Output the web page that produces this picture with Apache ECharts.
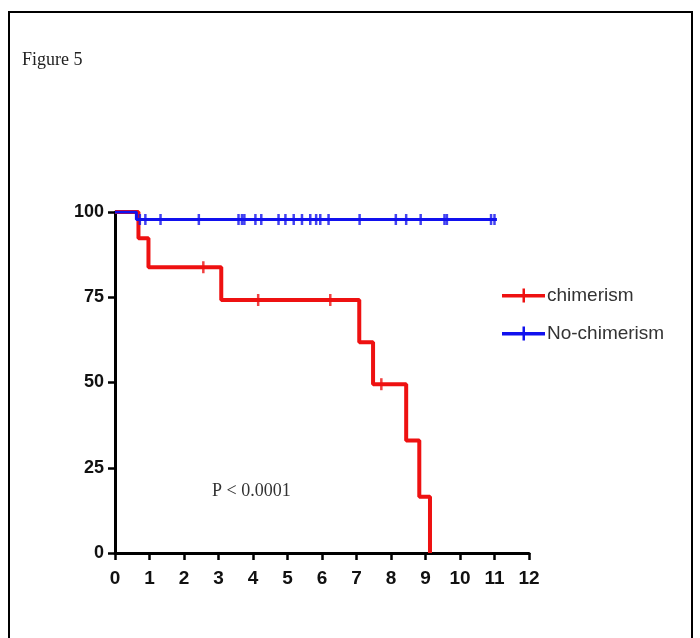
<!DOCTYPE html>
<html>
<head>
<meta charset="utf-8">
<script src="https://cdn.jsdelivr.net/npm/echarts@6/dist/echarts.min.js"></script>
<style>
  html, body { margin: 0; padding: 0; background: #fff; }
  #main { width: 700px; height: 638px; }
</style>
</head>
<body>
<div id="main"></div>
<script>
// Kaplan-Meier steps (time in years, survival %)
var chimerismSteps = [[0, 100], [0.68, 92.3], [0.97, 83.8], [3.08, 74.2], [7.08, 61.8], [7.48, 49.5], [8.44, 33.0], [8.82, 16.5], [9.13, 0]]
var chimerismCensor = [[2.56, 83.8], [4.15, 74.2], [6.24, 74.2], [7.72, 49.5]]
var noChimerismSteps = [[0, 100], [0.62, 97.8], [11.07, 97.8]]
var noChimerismCensorTimes = [0.72, 0.88, 1.32, 2.43, 3.58, 3.68, 3.75, 4.07, 4.24, 4.74, 4.94, 5.18, 5.42, 5.66, 5.83, 5.95, 6.19,
  7.09, 8.14, 8.44, 8.86, 9.55, 9.62, 10.9, 11.0]
var noChimerismLevel = 97.8
var xTicks = [0, 12, 1]
var yTicks = [0, 100, 25]

var Chart = echarts.init(document.getElementById('main'))
var legendIcon = 'path://M0,5.5 L43,5.5 L43,9 L0,9 Z M20.5,0 L23,0 L23,14 L20.5,14 Z'
var option = {
  animation: false,
  backgroundColor: '#fff',
  graphic: [
    {
      type: 'rect',
      shape: { x: 9, y: 12, width: 683, height: 700 },
      style: { fill: 'none', stroke: '#000', lineWidth: 2 }
    },
    {
      type: 'text',
      left: 22, top: 51,
      style: { text: 'Figure 5', font: '18px "Liberation Serif", "Times New Roman", serif', fill: '#222' }
    },
    {
      type: 'text',
      left: 212, top: 482,
      style: { text: 'P < 0.0001', font: '18px "Liberation Serif", "Times New Roman", serif', fill: '#333' }
    }
  ],
  legend: {
    orient: 'vertical',
    left: 497,
    top: 281,
    itemWidth: 43,
    itemHeight: 14,
    itemGap: 19,
    data: [
      { name: 'chimerism', icon: legendIcon },
      { name: 'No-chimerism', icon: legendIcon }
    ],
    textStyle: { fontFamily: '"Liberation Sans", Arial, sans-serif', fontSize: 19, color: '#333', padding: [0, 0, 0, -3] }
  },
  grid: { left: 115, top: 212, width: 414, height: 341 },
  xAxis: {
    type: 'value',
    min: xTicks[0], max: xTicks[1], interval: xTicks[2],
    splitLine: { show: false },
    axisLine: { lineStyle: { color: '#000', width: 3 } },
    axisTick: { length: 7, lineStyle: { color: '#000', width: 2.5 } },
    axisLabel: { margin: 16, color: '#111', fontWeight: 'bold', fontSize: 19,
      fontFamily: '"Liberation Sans Narrow", "Arial Narrow", "Liberation Sans", sans-serif' }
  },
  yAxis: {
    type: 'value',
    min: yTicks[0], max: yTicks[1], interval: yTicks[2],
    splitLine: { show: false },
    axisLine: { show: true, lineStyle: { color: '#000', width: 3 } },
    axisTick: { show: true, length: 7, lineStyle: { color: '#000', width: 2.5 } },
    axisLabel: { margin: 11, color: '#111', fontWeight: 'bold', fontSize: 18,
      fontFamily: '"Liberation Sans", Arial, sans-serif' }
  },
  series: [
    {
      name: 'chimerism', type: 'line', step: 'end', showSymbol: false,
      color: '#ee1111', lineStyle: { width: 4, color: '#ee1111' },
      data: chimerismSteps, z: 3
    },
    {
      name: 'No-chimerism', type: 'line', step: 'end', showSymbol: false,
      color: '#1111ee', lineStyle: { width: 3, color: '#1111ee' },
      data: noChimerismSteps, z: 4
    },
    {
      name: 'chimerism censored', type: 'scatter', symbol: 'rect', symbolSize: [2.5, 12],
      itemStyle: { color: '#ee1111' }, data: chimerismCensor, z: 5
    },
    {
      name: 'No-chimerism censored', type: 'scatter', symbol: 'rect', symbolSize: [2.5, 11],
      itemStyle: { color: '#1111ee' },
      data: noChimerismCensorTimes.map(function (t) { return [t, noChimerismLevel] }), z: 6
    }
  ]
}
Chart.setOption(option)
</script>
</body>
</html>
